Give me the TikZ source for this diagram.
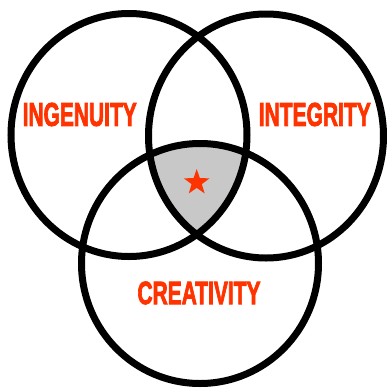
\documentclass[tikz,border=0pt]{standalone}
\usepackage{fontspec}
\setmainfont{Liberation Sans}
\newfontfamily\heavyfont[FakeBold=3]{Liberation Sans Bold}
\usetikzlibrary{shapes.geometric}
\definecolor{vred}{RGB}{255,51,0}
\definecolor{vgray}{RGB}{200,200,200}
\tikzset{
  ring/.style={draw=black, line width=7pt},
  lbl/.style={text=vred, inner sep=0pt, font=\heavyfont},
}
\begin{document}
\begin{tikzpicture}[x=1pt,y=-1pt]
\useasboundingbox (0,0) rectangle (388,389);
\coordinate (cl) at (129,135);
\coordinate (cr) at (266,136);
\coordinate (cb) at (200,263.5);
\begin{scope}
  \clip (cl) ellipse [x radius=118, y radius=121.5];
  \clip (cr) ellipse [x radius=117.5, y radius=122];
  \fill[vgray] (cb) ellipse [x radius=118.5, y radius=120];
\end{scope}
\draw[ring] (cl) ellipse [x radius=118, y radius=121.5];
\draw[ring] (cr) ellipse [x radius=117.5, y radius=122];
\draw[ring] (cb) ellipse [x radius=118.5, y radius=120];
\node[lbl] (ing) at (79.7,114.5) {\resizebox{114pt}{23pt}{INGENUITY}};
\node[lbl] (int) at (314.8,114.5) {\resizebox{112pt}{23pt}{INTEGRITY}};
\node[lbl] (cre) at (199,293) {\resizebox{123pt}{22.5pt}{CREATIVITY}};
\node[star, star points=5, star point ratio=2.5, fill=vred, minimum size=27pt, inner sep=0pt] (st) at (196.7,182.5) {};
\end{tikzpicture}
\end{document}
